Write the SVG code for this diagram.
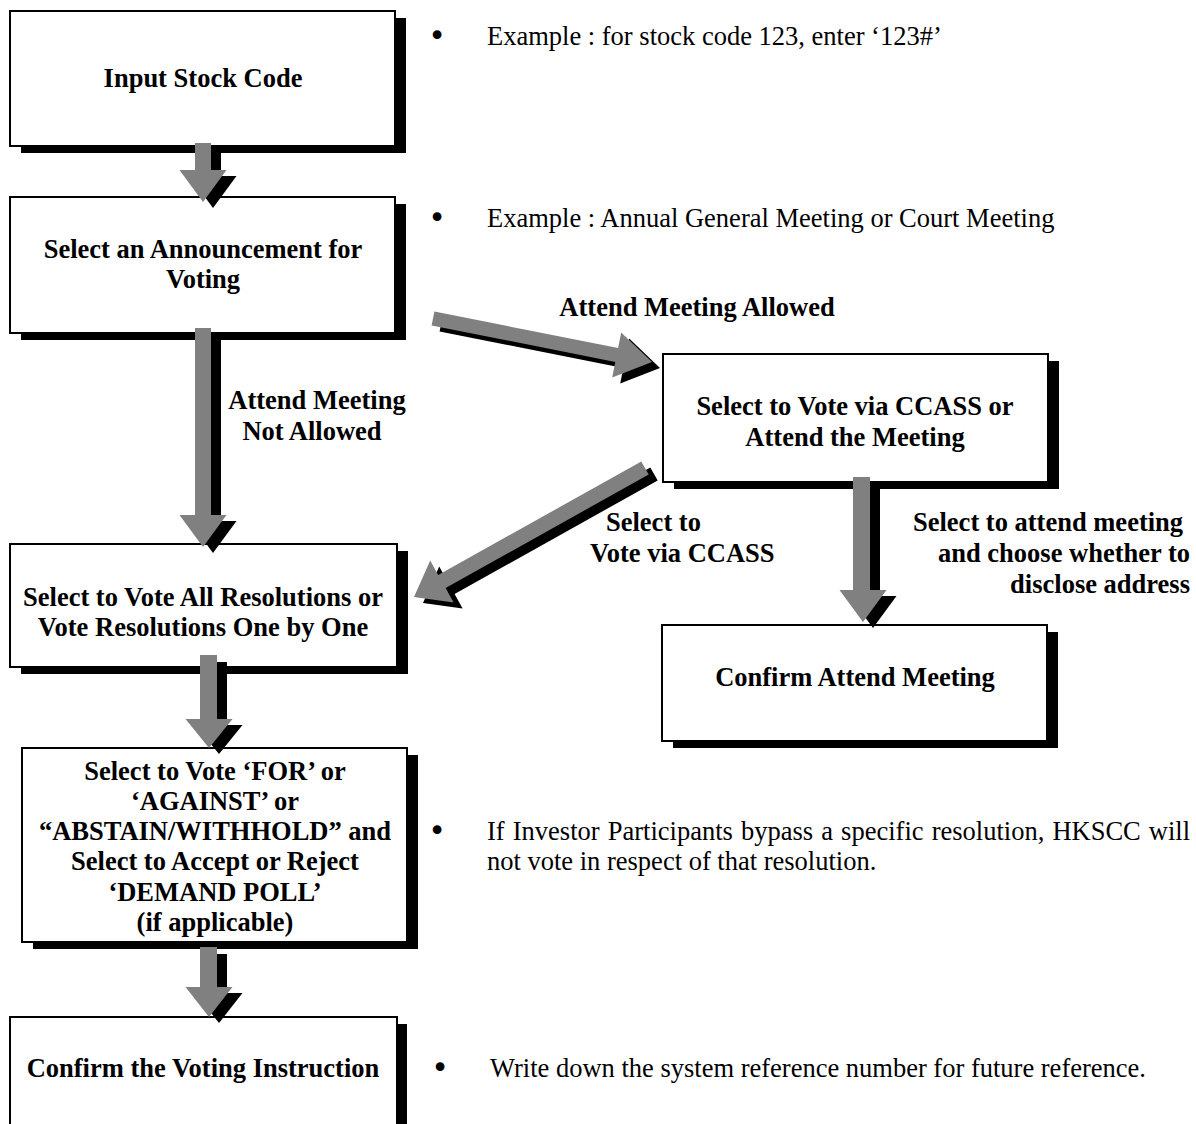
<svg xmlns="http://www.w3.org/2000/svg" width="1196" height="1124" viewBox="0 0 1196 1124">
<style>
.box{fill:#fff;stroke:#000;stroke-width:2}
.sh{fill:#000}
.ar{fill:#808080}
.t{font-family:"Liberation Serif","Times New Roman",serif;font-size:26.5px;font-weight:bold;fill:#000;text-anchor:middle}
.r{font-family:"Liberation Serif","Times New Roman",serif;font-size:26.5px;fill:#000}
.b{font-family:"Liberation Serif","Times New Roman",serif;font-size:26.5px;font-weight:bold;fill:#000}
.bu{font-family:"DejaVu Sans",sans-serif;font-size:30px;fill:#000;text-anchor:middle}
</style>
<rect width="1196" height="1124" fill="#fff"/>

<g id="n1">
<rect class="sh" x="21" y="18" width="385" height="135"/>
<rect class="box" x="10" y="11" width="385" height="135"/>
<text class="t" x="203" y="87">Input Stock Code</text>
</g>
<g id="n2">
<rect class="sh" x="21" y="204" width="385" height="136"/>
<rect class="box" x="10" y="197" width="385" height="136"/>
<text class="t" x="203" y="258">Select an Announcement for</text>
<text class="t" x="203" y="288">Voting</text>
</g>
<g id="n3">
<rect class="sh" x="674" y="361" width="385" height="128"/>
<rect class="box" x="663" y="354" width="385" height="128"/>
<text class="t" x="855" y="415">Select to Vote via CCASS or</text>
<text class="t" x="855" y="446">Attend the Meeting</text>
</g>
<g id="n4">
<rect class="sh" x="673" y="632" width="385" height="116"/>
<rect class="box" x="662" y="625" width="385" height="116"/>
<text class="t" x="855" y="686">Confirm Attend Meeting</text>
</g>
<g id="n5">
<rect class="sh" x="21" y="551" width="387" height="123"/>
<rect class="box" x="10" y="544" width="387" height="123"/>
<text class="t" x="203" y="606">Select to Vote All Resolutions or</text>
<text class="t" x="203" y="636">Vote Resolutions One by One</text>
</g>
<g id="n6">
<rect class="sh" x="33" y="755" width="385" height="194"/>
<rect class="box" x="22" y="748" width="385" height="194"/>
<text class="t" x="215" y="780">Select to Vote ‘FOR’ or</text>
<text class="t" x="215" y="810">‘AGAINST’ or</text>
<text class="t" x="215" y="840">“ABSTAIN/WITHHOLD” and</text>
<text class="t" x="215" y="870">Select to Accept or Reject</text>
<text class="t" x="215" y="901">‘DEMAND POLL’</text>
<text class="t" x="215" y="931">(if applicable)</text>
</g>
<g id="n7">
<rect class="sh" x="20" y="1024" width="387" height="140"/>
<rect class="box" x="10" y="1017" width="387" height="140"/>
<text class="t" x="203" y="1077">Confirm the Voting Instruction</text>
</g>

<g id="connectors">
<g>
<path class="sh" d="M205,149 H221 V176 H236.5 L213,208 L189.5,176 H205 Z"/>
<path class="ar" d="M195,143 H211 V170 H226.5 L203,202 L179.5,170 H195 Z"/>
</g>
<g>
<path class="sh" d="M205,335 H221 V521 H236.5 L213,553 L189.5,521 H205 Z"/>
<path class="ar" d="M195,328 H211 V515 H226.5 L203,547 L179.5,515 H195 Z"/>
</g>
<g>
<path class="sh" d="M210,662 H227 V725 H242.5 L219,754 L195.5,725 H210 Z"/>
<path class="ar" d="M200,655 H217 V719 H232.5 L209,748 L185.5,719 H200 Z"/>
</g>
<g>
<path class="sh" d="M210,954 H227 V993 H242.5 L219,1023 L195.5,993 H210 Z"/>
<path class="ar" d="M200,947 H217 V987 H232.5 L209,1017 L185.5,987 H200 Z"/>
</g>
<g>
<path class="sh" d="M863,483 H880 V596 H896.5 L873,628 L849.5,596 H863 Z"/>
<path class="ar" d="M853,477 H870 V590 H886.5 L863,622 L839.5,590 H853 Z"/>
</g>
<g>
<polygon class="sh" transform="translate(8,6)" points="434.4,311.6 618.1,348.1 621.2,332.4 652,362 612.2,377.6 615.3,361.9 431.6,325.4"/>
<polygon class="ar" points="434.4,311.6 618.1,348.1 621.2,332.4 652,362 612.2,377.6 615.3,361.9 431.6,325.4"/>
</g>
<g>
<polygon class="sh" transform="translate(9,6)" points="641.3,461.5 438.2,574.9 430.2,560.4 414,597 453.6,602.4 445.6,588 648.7,474.5"/>
<polygon class="ar" points="641.3,461.5 438.2,574.9 430.2,560.4 414,597 453.6,602.4 445.6,588 648.7,474.5"/>
</g>
</g>

<g id="labels">
<text class="t" x="697" y="316">Attend Meeting Allowed</text>
<text class="t" x="317" y="409">Attend Meeting</text>
<text class="t" x="312" y="440">Not Allowed</text>
<text class="b" x="606" y="531">Select to</text>
<text class="b" x="590" y="562">Vote via CCASS</text>
<text class="b" x="913" y="531">Select to attend meeting</text>
<text class="b" x="1190" y="562" text-anchor="end">and choose whether to</text>
<text class="b" x="1190" y="593" text-anchor="end">disclose address</text>
</g>

<g id="notes">
<text class="bu" x="437" y="46">•</text>
<text class="r" x="487" y="45">Example : for stock code 123, enter ‘123#’</text>
<text class="bu" x="437" y="228">•</text>
<text class="r" x="487" y="227">Example : Annual General Meeting or Court Meeting</text>
<text class="bu" x="437" y="841">•</text>
<text class="r" x="487" y="840" word-spacing="1.5">If Investor Participants bypass a specific resolution, HKSCC will</text>
<text class="r" x="487" y="870">not vote in respect of that resolution.</text>
<text class="bu" x="440" y="1078">•</text>
<text class="r" x="490" y="1077">Write down the system reference number for future reference.</text>
</g>
</svg>
